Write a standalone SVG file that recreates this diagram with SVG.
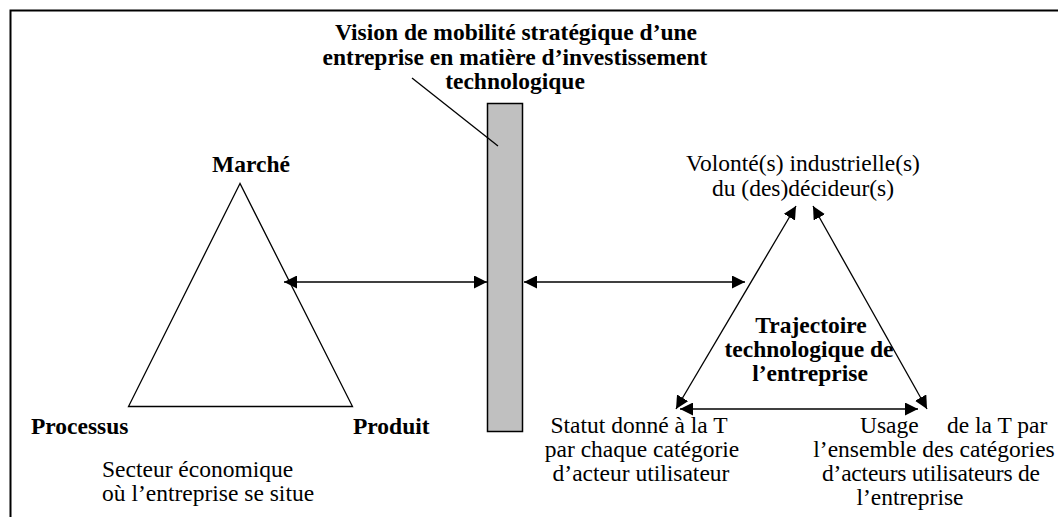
<svg xmlns="http://www.w3.org/2000/svg" width="1058" height="517" viewBox="0 0 1058 517">
<style>
text{font-family:'Liberation Serif','Times New Roman',serif;fill:#000;font-size:23.5px}
.b{font-weight:bold}
.m{text-anchor:middle}
.ln{stroke:#000;stroke-width:1.3;fill:none}
</style>
<defs>
<marker id="ah" viewBox="0 0 10 10" refX="10" refY="5" markerWidth="13" markerHeight="13" markerUnits="userSpaceOnUse" orient="auto-start-reverse">
<path d="M0,0 L10,5 L0,10 z" fill="#000"/>
</marker>
</defs>
<rect width="1058" height="517" fill="#fff"/>
<g id="frame">
<path d="M10.5,517 L10.5,10.5 L1058,10.5" stroke="#000" stroke-width="2" fill="none"/>
</g>
<g id="vision">
<text class="b m" x="516" y="40">Vision de mobilité stratégique d’une</text>
<text class="b m" x="515" y="64.5">entreprise en matière d’investissement</text>
<text class="b m" x="515" y="89">technologique</text>
<rect x="487.5" y="103.5" width="35" height="328" fill="#c0c0c0" stroke="#000" stroke-width="1.5"/>
</g>
<g id="secteur">
<path class="ln" d="M240,183.5 L128.5,406.5 L352.5,406.5 Z"/>
<text class="b m" x="251" y="172">Marché</text>
<text class="b" x="31" y="434">Processus</text>
<text class="b" x="353" y="434">Produit</text>
<text x="102" y="477">Secteur économique</text>
<text x="102" y="500.5">où l’entreprise se situe</text>
</g>
<g id="trajectoire">
<text class="m" x="803" y="171">Volonté(s) industrielle(s)</text>
<text class="m" x="803" y="196">du (des)décideur(s)</text>
<text class="b m" x="811" y="333">Trajectoire</text>
<text class="b m" x="809" y="357">technologique de</text>
<text class="b m" x="810" y="381">l’entreprise</text>
<text class="m" x="639" y="433">Statut donné à  la T</text>
<text class="m" x="642" y="457">par chaque catégorie</text>
<text class="m" x="641" y="481">d’acteur utilisateur</text>
<text y="433"><tspan x="860">Usage</tspan><tspan x="947">de la T par</tspan></text>
<text class="m" x="934" y="457">l’ensemble des catégories</text>
<text x="822" y="481" textLength="218" lengthAdjust="spacing">d’acteurs utilisateurs de</text>
<text class="m" x="910" y="505">l’entreprise</text>
</g>
<g id="connectors">
<line class="ln" x1="412" y1="78" x2="498" y2="146"/>
<line class="ln" x1="284" y1="282" x2="487" y2="282" marker-start="url(#ah)" marker-end="url(#ah)"/>
<line class="ln" x1="524" y1="282" x2="745" y2="282" marker-start="url(#ah)" marker-end="url(#ah)"/>
<line class="ln" x1="676" y1="409" x2="796" y2="206" marker-start="url(#ah)" marker-end="url(#ah)"/>
<line class="ln" x1="813" y1="206" x2="927" y2="409" marker-start="url(#ah)" marker-end="url(#ah)"/>
<line class="ln" x1="680" y1="409" x2="918" y2="409" marker-start="url(#ah)" marker-end="url(#ah)"/>
</g>
</svg>
